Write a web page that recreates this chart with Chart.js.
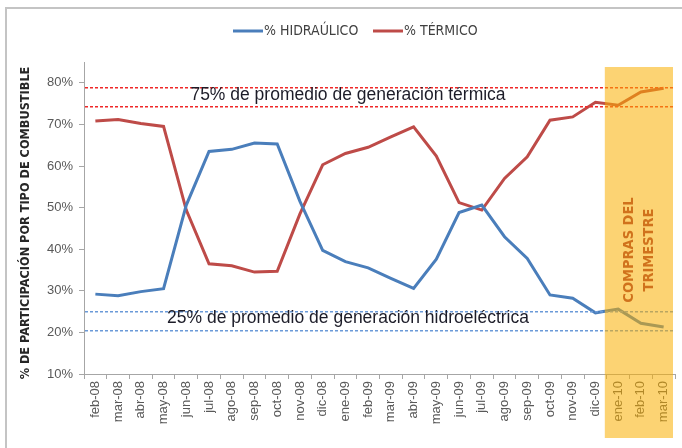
<!DOCTYPE html>
<html>
<head>
<meta charset="utf-8">
<script src="https://cdn.jsdelivr.net/npm/chart.js@4.4.0/dist/chart.umd.min.js"></script>
<style>
  html, body { margin: 0; padding: 0; background: #fff; }
  #wrap { width: 682px; height: 448px; }
</style>
</head>
<body>
<div id="wrap"><canvas id="grafico" width="682" height="448"></canvas></div>
<script>
// datos (porcentaje de participacion)
const meses = ["feb-08", "mar-08", "abr-08", "may-08", "jun-08", "jul-08", "ago-08", "sep-08", "oct-08",
  "nov-08", "dic-08", "ene-09", "feb-09", "mar-09", "abr-09", "may-09", "jun-09", "jul-09",
  "ago-09", "sep-09", "oct-09", "nov-09", "dic-09", "ene-10", "feb-10", "mar-10"];
const hidraulico = [29.2, 28.8, 29.8, 30.5, 50.6, 63.5, 64.0, 65.5, 65.3, 51.5, 39.7, 37.0, 35.5,
  33.0, 30.6, 37.6, 48.8, 50.6, 43.0, 37.8, 29.0, 28.2, 24.7, 25.6, 22.2, 21.3];
const termico = [70.8, 71.2, 70.2, 69.5, 49.4, 36.5, 36.0, 34.5, 34.7, 48.5, 60.3, 63.0, 64.5,
  67.0, 69.4, 62.4, 51.2, 49.4, 57.0, 62.2, 71.0, 71.8, 75.3, 74.6, 77.8, 78.7];
const ticksY = [10, 20, 30, 40, 50, 60, 70, 80];
const bandaTermica = [79.0, 74.5];     // lineas punteadas rojas
const bandaHidro = [25.1, 20.6];       // lineas punteadas azules
const trimestre = ["ene-10", "feb-10", "mar-10"];

const AZUL = "#4a7ebb";
const ROJO = "#be4b48";
const GRIS = "#595959";

const extras = {
  id: "extras",
  beforeDraw(chart) {
    const ctx = chart.ctx;
    ctx.save();
    ctx.fillStyle = "#fff";
    ctx.fillRect(0, 0, chart.width, chart.height);
    ctx.strokeStyle = "#c4c4c4";
    ctx.lineWidth = 2;
    ctx.strokeRect(6, 8, 700, 470);
    ctx.restore();
  },
  afterDatasetsDraw(chart) {
    const { ctx, chartArea: a, scales: { x, y } } = chart;
    ctx.save();
    // lineas de promedio (punteadas, 3px trazo / 2px hueco)
    const linea = (v, color) => {
      const py = Math.round(y.getPixelForValue(v));
      ctx.fillStyle = color;
      for (let px = a.left + 1; px < a.right; px += 5) {
        ctx.fillRect(px, py, Math.min(3, a.right - px), 1.5);
      }
    };
    bandaTermica.forEach(v => linea(v, "#f02828"));
    bandaHidro.forEach(v => linea(v, "#6b9ad8"));

    // textos
    ctx.fillStyle = "#1c1c28";
    ctx.font = "17.5px 'Liberation Sans', Arial, sans-serif";
    ctx.textAlign = "center";
    ctx.textBaseline = "middle";
    const cx = 348;
    ctx.fillText("75% de promedio de generación térmica", cx,
      (y.getPixelForValue(bandaTermica[0]) + y.getPixelForValue(bandaTermica[1])) / 2 - 1);
    ctx.fillText("25% de promedio de generación hidroeléctrica", cx,
      (y.getPixelForValue(bandaHidro[0]) + y.getPixelForValue(bandaHidro[1])) / 2 - 2);

    // franja del trimestre
    const i0 = meses.indexOf(trimestre[0]);
    const i1 = meses.indexOf(trimestre[trimestre.length - 1]);
    const x0 = x.getPixelForValue(i0 - 0.5) - 2;
    const x1 = x.getPixelForValue(i1 + 0.5) - 2;
    const y0 = y.getPixelForValue(83.8);
    const y1 = a.bottom + 64;
    ctx.fillStyle = "rgba(250, 175, 0, 0.55)";
    ctx.fillRect(x0, y0, x1 - x0, y1 - y0);

    ctx.fillStyle = "#d0721c";
    ctx.font = "bold 14.5px 'Liberation Sans Narrow', 'DejaVu Sans Condensed', sans-serif";
    ctx.translate((x0 + x1) / 2, 250);
    ctx.rotate(-Math.PI / 2);
    ctx.fillText("COMPRAS DEL", 0, -10);
    ctx.fillText("TRIMESTRE", 0, 10);
    ctx.restore();

    // leyenda
    ctx.save();
    ctx.font = "14px 'Liberation Sans Narrow', 'DejaVu Sans Condensed', sans-serif";
    ctx.textBaseline = "middle";
    ctx.textAlign = "left";
    ctx.lineWidth = 3;
    [[chart.data.datasets[0], 233], [chart.data.datasets[1], 373]].forEach(([ds, lx]) => {
      ctx.strokeStyle = ds.borderColor;
      ctx.beginPath();
      ctx.moveTo(lx, 31);
      ctx.lineTo(lx + 30, 31);
      ctx.stroke();
      ctx.fillStyle = "#404040";
      ctx.fillText(ds.label, lx + 31, 31);
    });

    // titulo eje y
    ctx.font = "bold 12.6px 'Liberation Sans Narrow', 'DejaVu Sans Condensed', sans-serif";
    ctx.fillStyle = "#262626";
    ctx.textAlign = "center";
    ctx.translate(26, 223);
    ctx.rotate(-Math.PI / 2);
    ctx.fillText("% DE PARTICIPACIÓN POR TIPO DE COMBUSTIBLE", 0, 0);
    ctx.restore();
  }
};

new Chart(document.getElementById("grafico"), {
  type: "line",
  data: {
    labels: meses,
    datasets: [
      { label: "% HIDRAÚLICO", data: hidraulico, borderColor: AZUL, backgroundColor: AZUL,
        borderWidth: 3, pointRadius: 0, tension: 0, fill: false },
      { label: "% TÉRMICO", data: termico, borderColor: ROJO, backgroundColor: ROJO,
        borderWidth: 3, pointRadius: 0, tension: 0, fill: false }
    ]
  },
  options: {
    responsive: false,
    animation: false,
    layout: { padding: { top: 62, right: 7, left: 0, bottom: 0 } },
    plugins: { legend: { display: false }, tooltip: { enabled: false } },
    scales: {
      x: {
        type: "category",
        offset: true,
        afterFit: s => { s.height = 74; },
        grid: { display: true, drawOnChartArea: false, offset: true, tickLength: 5, color: "#a6a6a6" },
        border: { display: true, color: "#a6a6a6" },
        ticks: { autoSkip: false, maxRotation: 90, minRotation: 90, padding: 2, color: GRIS,
          font: { family: "'Liberation Sans', Arial, sans-serif", size: 13 } }
      },
      y: {
        min: 10,
        max: 85,
        afterFit: s => { s.width = 84; },
        afterBuildTicks: s => { s.ticks = ticksY.map(v => ({ value: v })); },
        grid: { display: true, drawOnChartArea: false, tickLength: 5, color: "#a6a6a6" },
        border: { display: true, color: "#a6a6a6" },
        ticks: { padding: 6, color: GRIS, callback: v => v + "%",
          font: { family: "'Liberation Sans', Arial, sans-serif", size: 13 } }
      }
    }
  },
  plugins: [extras]
});
</script>
</body>
</html>
